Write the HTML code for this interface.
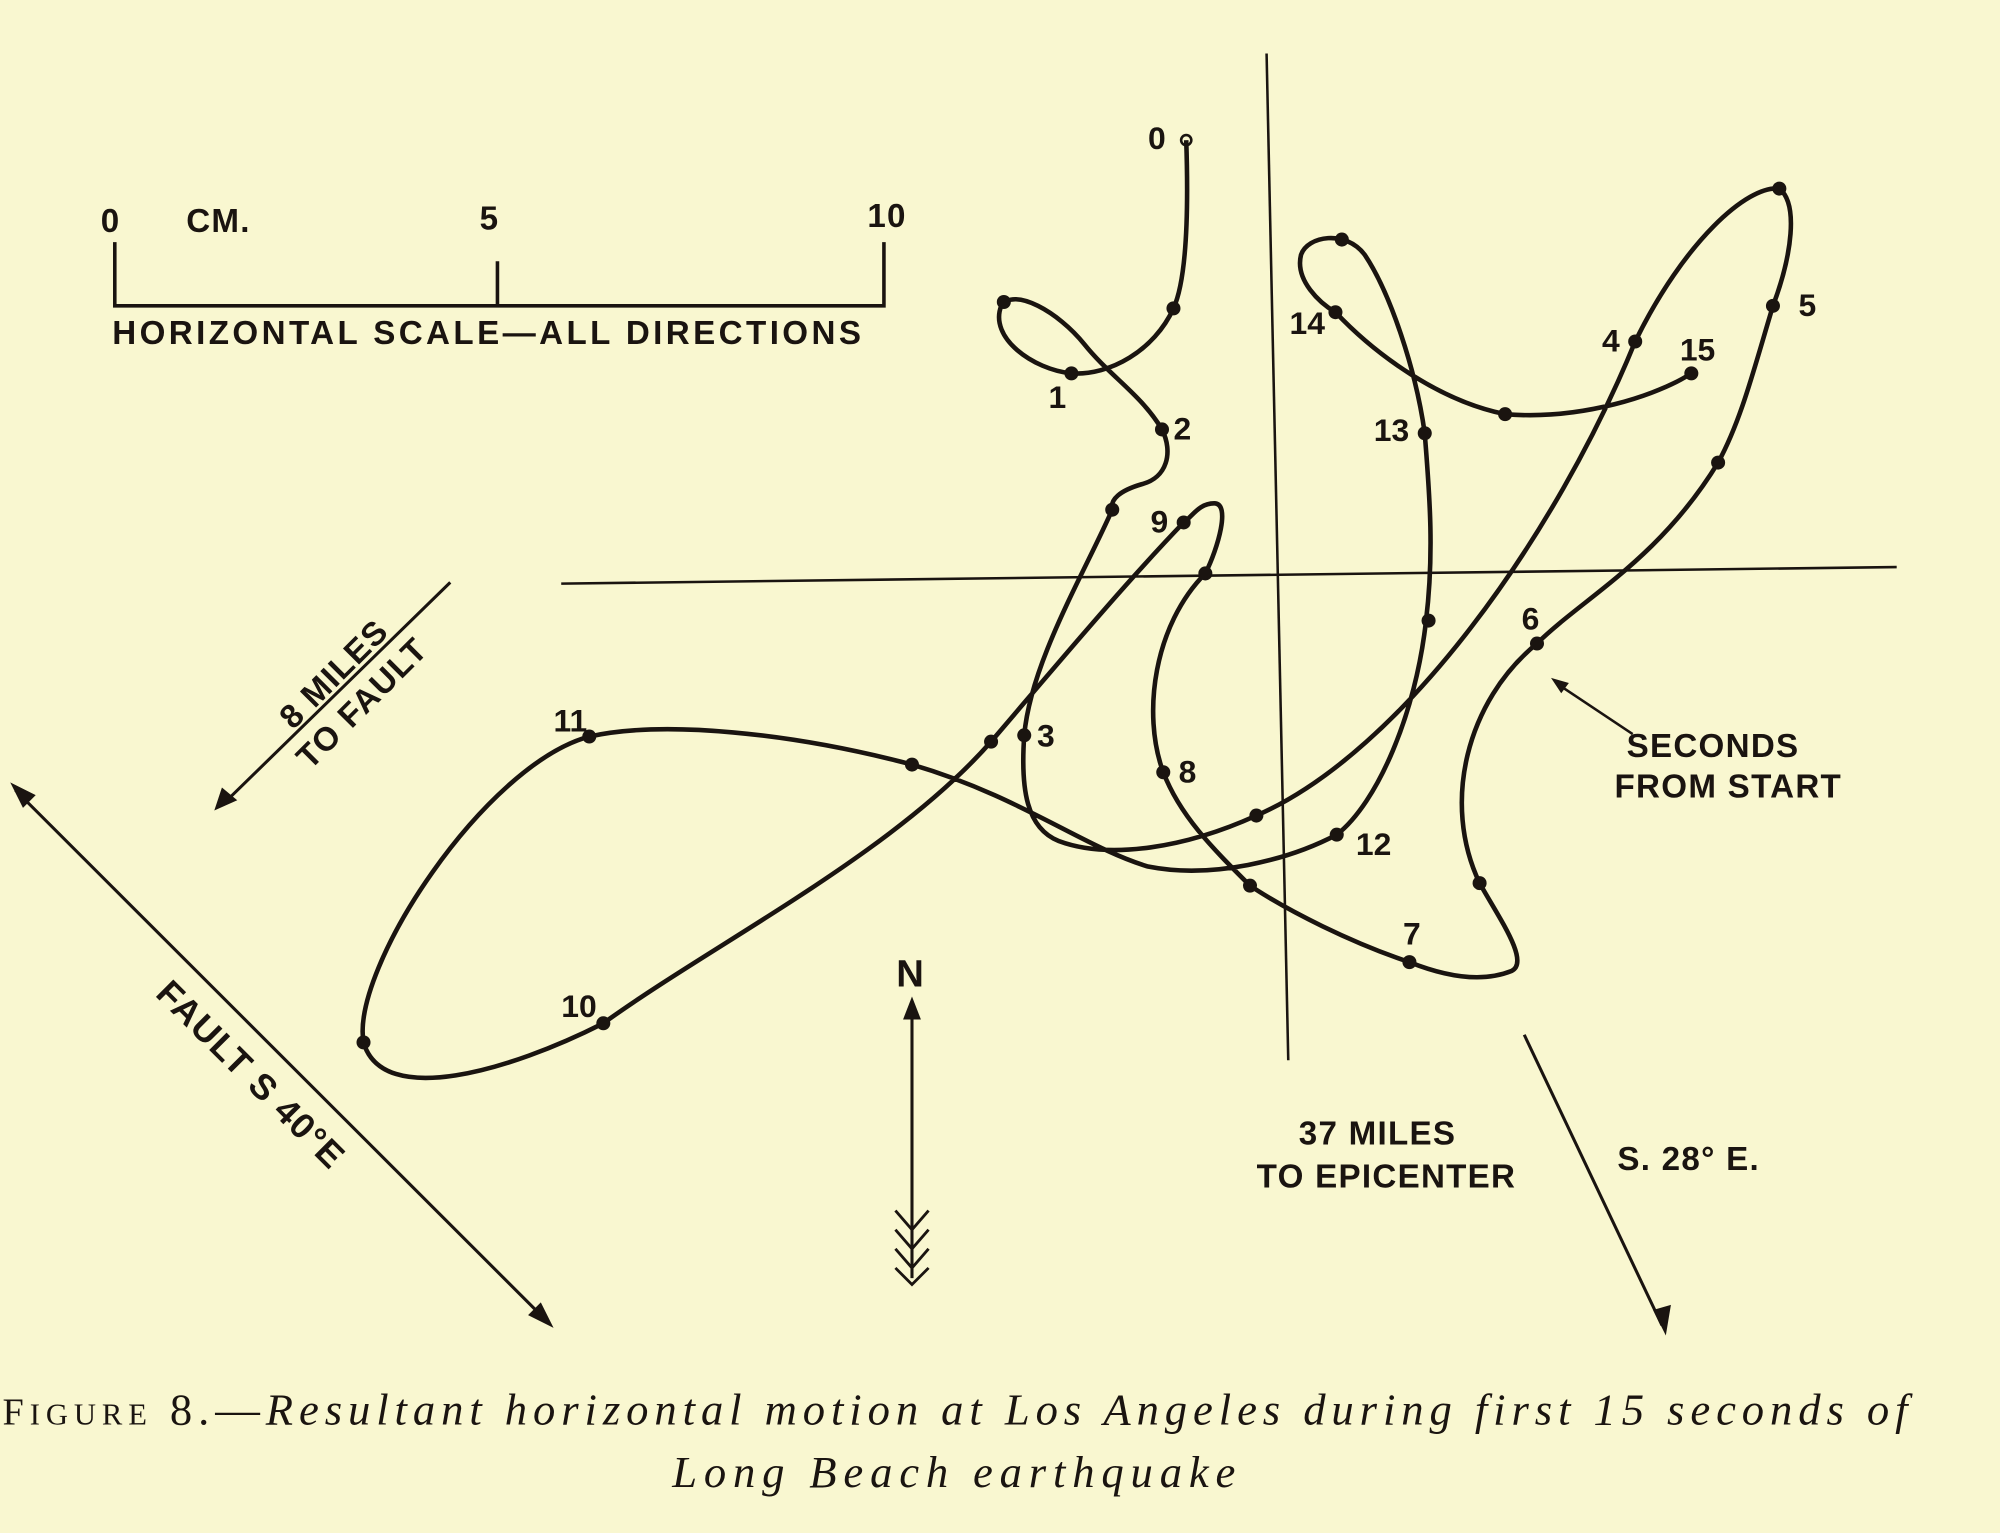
<!DOCTYPE html>
<html><head><meta charset="utf-8"><style>
html,body{margin:0;padding:0;background:#f9f7d0;}
svg{display:block}
.t{font-family:"Liberation Sans",sans-serif;font-size:26px;fill:#1a1410;letter-spacing:1px;font-weight:bold}
.n{font-family:"Liberation Sans",sans-serif;font-size:25px;fill:#1a1410;font-weight:bold}
.c{font-family:"Liberation Serif",serif;font-size:35px;fill:#1a1410;font-style:italic;letter-spacing:1.5px}
</style></head><body>
<svg width="2000" height="1533" viewBox="0 0 1568 1203" preserveAspectRatio="none" xmlns="http://www.w3.org/2000/svg">
<rect width="1568" height="1203" fill="#f9f7d0"/>
<g stroke="#1a1410" fill="none">
<line x1="993" y1="42" x2="1010" y2="832" stroke-width="2"/>
<line x1="440" y1="458" x2="1487" y2="445" stroke-width="2"/>
<path stroke-width="3.6" d="M930,110 C932,170 930,220 920,242 C905,275 870,295 840,293 C810,290 775,265 785,240 C795,225 830,245 850,270 C870,295 895,310 911,337 C920,355 915,375 895,380 C878,385 870,392 872,400 C850,450 808,520 803,577 C800,620 805,650 830,660 C870,675 930,665 985,640 C1100,590 1220,420 1282,268 C1320,190 1370,145 1395,148 C1410,160 1405,200 1390,240 C1375,290 1365,330 1347,363 C1300,440 1240,470 1205,505 C1150,550 1130,630 1160,693 C1175,720 1200,755 1185,762 C1160,772 1130,765 1105,755 C1060,740 1010,715 980,695 C950,665 925,640 912,606 C895,560 905,490 945,450 C955,430 965,395 952,395 C940,395 935,405 928,410 C880,460 830,520 777,582 C700,670 560,740 473,803 C400,840 300,870 285,818 C275,760 380,600 462,578 C520,565 620,575 715,600 C800,625 850,665 900,680 C950,690 1010,675 1048,655 C1080,630 1110,560 1118,487 C1125,430 1120,380 1117,340 C1110,290 1090,230 1070,200 C1055,180 1025,185 1020,200 C1015,220 1035,238 1047,245 C1080,280 1130,315 1180,325 C1240,330 1300,310 1326,293"/>
<path stroke-width="2.8" d="M90,190 V240 H693 V190 M390,205 V240"/>
<line x1="353" y1="457" x2="176" y2="630" stroke-width="2.4"/>
<line x1="12" y1="620" x2="430" y2="1038" stroke-width="2.4"/>
<line x1="715" y1="790" x2="715" y2="1003" stroke-width="2.4"/>
<path stroke-width="2.2" d="M702,950 L715,965 L728,950 M702,965 L715,980 L728,965 M702,980 L715,995 L728,980 M702,995 L715,1008 L728,995"/>
<line x1="1195" y1="812" x2="1303" y2="1040" stroke-width="2.4"/>
<line x1="1280" y1="576" x2="1220" y2="536" stroke-width="2"/>
</g>
<g fill="#1a1410">
<path d="M168,636 L174,618 L186,628 Z"/>
<path d="M8,614 L28,624 L18,634 Z"/>
<path d="M434,1042 L414,1032 L424,1022 Z"/>
<path d="M715,782 L708,800 L722,800 Z"/>
<path d="M1306,1048 L1296,1028 L1310,1024 Z"/>
<path d="M1216,532 L1230,536 L1224,544 Z"/>
<g>
<circle cx="920" cy="242" r="5.5"/><circle cx="840" cy="293" r="5.5"/><circle cx="787" cy="237" r="5.5"/><circle cx="911" cy="337" r="5.5"/><circle cx="872" cy="400" r="5.5"/><circle cx="928" cy="410" r="5.5"/><circle cx="945" cy="450" r="5.5"/><circle cx="803" cy="577" r="5.5"/><circle cx="777" cy="582" r="5.5"/><circle cx="715" cy="600" r="5.5"/><circle cx="462" cy="578" r="5.5"/><circle cx="285" cy="818" r="5.5"/><circle cx="473" cy="803" r="5.5"/><circle cx="912" cy="606" r="5.5"/><circle cx="985" cy="640" r="5.5"/><circle cx="1048" cy="655" r="5.5"/><circle cx="980" cy="695" r="5.5"/><circle cx="1105" cy="755" r="5.5"/><circle cx="1160" cy="693" r="5.5"/><circle cx="1205" cy="505" r="5.5"/><circle cx="1347" cy="363" r="5.5"/><circle cx="1390" cy="240" r="5.5"/><circle cx="1395" cy="148" r="5.5"/><circle cx="1282" cy="268" r="5.5"/><circle cx="1326" cy="293" r="5.5"/><circle cx="1180" cy="325" r="5.5"/><circle cx="1047" cy="245" r="5.5"/><circle cx="1052" cy="188" r="5.5"/><circle cx="1117" cy="340" r="5.5"/><circle cx="1120" cy="487" r="5.5"/>
</g>
</g>
<circle cx="930" cy="110" r="4" fill="none" stroke="#1a1410" stroke-width="2"/>
<g class="n">
<text x="900" y="117">0</text><text x="822" y="320">1</text><text x="920" y="345">2</text><text x="902" y="418">9</text><text x="813" y="586">3</text><text x="924" y="614">8</text><text x="434" y="574">11</text><text x="440" y="798">10</text><text x="1063" y="671">12</text><text x="1100" y="741">7</text><text x="1193" y="494">6</text><text x="1077" y="346">13</text><text x="1011" y="262">14</text><text x="1256" y="276">4</text><text x="1317" y="283">15</text><text x="1410" y="248">5</text>
</g>
<g class="t">
<text x="79" y="182">0</text><text x="146" y="182">CM.</text><text x="376" y="180">5</text><text x="680" y="178">10</text>
<text x="88" y="270" textLength="588">HORIZONTAL SCALE—ALL DIRECTIONS</text>
<text transform="translate(268,535) rotate(-45)" text-anchor="middle">8 MILES</text>
<text transform="translate(290,558) rotate(-45)" text-anchor="middle">TO FAULT</text>
<text transform="translate(190,850) rotate(45)" text-anchor="middle" font-size="28">FAULT S 40°E</text>
<text x="714" y="774" text-anchor="middle" font-size="30">N</text>
<text x="1080" y="898" text-anchor="middle">37 MILES</text>
<text x="1087" y="932" text-anchor="middle">TO EPICENTER</text>
<text x="1268" y="918">S. 28° E.</text>
<text x="1343" y="594" text-anchor="middle">SECONDS</text>
<text x="1355" y="626" text-anchor="middle">FROM START</text>
</g>
<text class="c" x="2" y="1118" textLength="1495" lengthAdjust="spacing"><tspan font-style="normal" font-size="30">F</tspan><tspan font-style="normal" font-size="24">IGURE</tspan><tspan font-style="normal"> 8.—</tspan>Resultant horizontal motion at Los Angeles during first 15 seconds of</text>
<text class="c" x="527" y="1167" textLength="443" lengthAdjust="spacing">Long Beach earthquake</text>
</svg>
</body></html>
